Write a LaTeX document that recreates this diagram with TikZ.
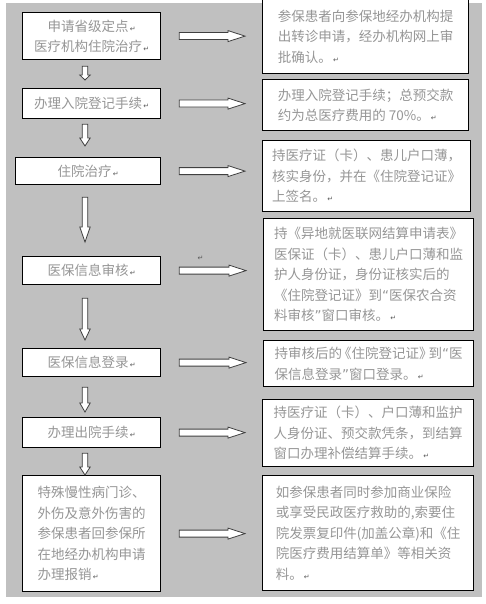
\documentclass[tikz,border=0pt]{standalone}
\usepackage{fontspec}
\setmainfont{Noto Sans CJK SC}
\newfontfamily\arrfont{DejaVu Sans}
\usepackage{tikz}
\usetikzlibrary{calc,positioning}
\definecolor{bgGray}{RGB}{192,192,192}
\definecolor{txtGray}{RGB}{150,150,150}
\newcommand{\parmark}{{\arrfont\fontsize{7}{7}\selectfont\color{black!65}\,↵}}
\newcommand{\qopen}{{\arrfont “}}
\newcommand{\qclose}{{\arrfont ”}}
% block arrow between two boxes, horizontal
\newcommand{\sidearrow}[2]{%
  \draw[blockarrow] let \p1=($(#1.east)+(18,0)$), \p2=($(#2.west |- #1.east)+(-17,0)$) in
    (\x1,\y1+3.5pt) -- (\x2-17pt,\y1+3.5pt) -- (\x2-17pt,\y1+5.5pt) -- (\x2,\y1)
    -- (\x2-17pt,\y1-5.5pt) -- (\x2-17pt,\y1-3.5pt) -- (\x1,\y1-3.5pt) -- cycle;}
% block arrow between two boxes, downwards
\newcommand{\dnarrow}[5]{%
  \draw[blockarrow] let \p1=($(ax |- #1.south)+(0,-#3)$), \p2=($(ax |- #2.north)+(0,#4)$) in
    (\x1-2.7pt,\y1) -- (\x1+2.7pt,\y1) -- (\x1+2.7pt,\y2+#5) -- (\x1+5.2pt,\y2+#5) -- (\x1,\y2)
    -- (\x1-5.2pt,\y2+#5) -- (\x1-2.7pt,\y2+#5) -- cycle;}

\begin{document}
\begin{tikzpicture}[x=1pt,y=1pt,
    box/.style={draw, line width=1.2pt, fill=white, anchor=north west, inner sep=0pt,
      font=\fontsize{13.5}{20.5}\selectfont, text=txtGray},
    lbox/.style={box, align=center},
    rbox/.style={box, align=left},
    blockarrow/.style={draw=black!75, fill=white, line width=0.8pt, line join=miter}]
  \useasboundingbox (0,0) rectangle (486,-604);
  \fill[bgGray] (6,-3) rectangle (482,-597);
  \coordinate (ax) at (85,0);

  \node[lbox, minimum width=138pt, minimum height=47pt] (l1) at (22,-12)
    {申请省级定点\parmark\\医疗机构住院治疗\parmark};
  \node[lbox, minimum width=138pt, minimum height=30pt] (l2) at (22,-88) {办理入院登记手续\parmark};
  \node[lbox, minimum width=145pt, minimum height=27pt] (l3) at (15,-157) {住院治疗\parmark};
  \node[lbox, minimum width=138pt, minimum height=28pt] (l4) at (22,-256) {医保信息审核\parmark};
  \node[lbox, minimum width=138pt, minimum height=28pt] (l5) at (22,-348) {医保信息登录\parmark};
  \node[lbox, minimum width=138pt, minimum height=30pt] (l6) at (22,-417) {办理出院手续\parmark};
  \node[rbox, minimum width=138pt, minimum height=116pt] (l7) at (22,-475)
    {特殊慢性病门诊、\\外伤及意外伤害的\\参保患者回参保所\\在地经办机构申请\\办理报销\parmark};

  \node[rbox, minimum width=206pt, minimum height=74pt] (r1) at (262,1)
    {参保患者向参保地经办机构提\\出转诊申请，经办机构网上审\\批确认。\parmark};
  \node[rbox, minimum width=206pt, minimum height=51pt] (r2) at (262,-79)
    {办理入院登记手续；总预交款\\约为总医疗费用的 70\%。\parmark};
  \node[rbox, minimum width=208pt, minimum height=71pt] (r3) at (262,-140)
    {持医疗证（卡）、患儿户口薄，\\核实身份，并在《住院登记证》\\上签名。\parmark};
  \node[rbox, minimum width=210pt, minimum height=112pt] (r4) at (263,-218)
    {持《异地就医联网结算申请表》\\医保证（卡）、患儿户口薄和监\\护人身份证，身份证核实后的\\《住院登记证》到\qopen 医保农合资\\料审核\qclose 窗口审核。\parmark};
  \node[rbox, minimum width=210pt, minimum height=46pt] (r5) at (263,-340)
    {持审核后的\kern-4pt《住院登记证》\kern-4pt 到\qopen 医\\保信息登录\qclose 窗口登录。\parmark};
  \node[rbox, minimum width=211pt, minimum height=67pt] (r6) at (262,-399)
    {持医疗证（卡）、户口薄和监护\\人身份证、预交款凭条，到结算\\窗口办理补偿结算手续。\parmark};
  \node[rbox, minimum width=211pt, minimum height=115pt] (r7) at (262,-475)
    {如参保患者同时参加商业保险\\或享受民政医疗救助的,索要住\\院发票复印件(加盖公章)和《住\\院医疗费用结算单》等相关资\\料。\parmark};
  \node[inner sep=0pt] (stray) at (200,-258) {\parmark};

  \foreach \i in {1,...,7} {\sidearrow{l\i}{r\i}}
  \dnarrow{l1}{l2}{6}{8}{5pt}
  \dnarrow{l2}{l3}{5}{11}{8pt}
  \dnarrow{l3}{l4}{12}{14}{15pt}
  \dnarrow{l4}{l5}{13}{8}{11pt}
  \dnarrow{l5}{l6}{10}{5}{9pt}
  \dnarrow{l6}{l7}{5}{0}{8pt}
\end{tikzpicture}
\end{document}
